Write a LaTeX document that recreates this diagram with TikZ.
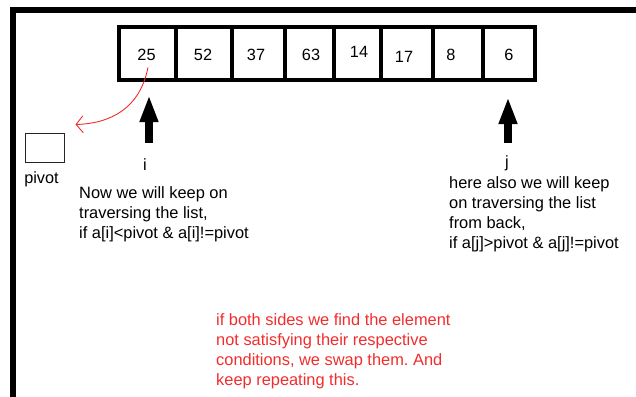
\documentclass[tikz,border=0pt]{standalone}
\usepackage{fontspec}
\setmainfont{Liberation Sans}
\usepackage{tikz}
\usetikzlibrary{arrows.meta,positioning}
\frenchspacing
\definecolor{noteRed}{HTML}{F22C2C}
\tikzset{
  cell/.style={rectangle, draw=black, line width=4pt, minimum height=52.5pt, inner sep=0pt},
  num/.style={anchor=base, inner sep=0pt, font=\fontsize{16.3}{20}\selectfont},
  % anchor=base of a multi-line node sits on its last line
  note/.style={anchor=base west, align=left, inner sep=0pt, font=\fontsize{16.4}{20}\selectfont},
  rednote/.style={note, text=noteRed},
  pivotbox/.style={rectangle, draw=black!85, line width=1pt, minimum width=39pt, minimum height=29pt},
  pointer/.style={-{Triangle[length=27pt,width=17pt]}, line width=8pt},
  swaparrow/.style={-{Straight Barb[length=7pt,width=17pt]}, draw=noteRed, line width=0.9pt},
  frame/.style={line width=6pt, line join=miter}
}

\begin{document}
\begin{tikzpicture}[x=1pt, y=-1pt]
  \useasboundingbox (0,0) rectangle (636,396);
  \draw[frame] (13,400) -- (13,10) -- (640,10);

  % the list, one cell per value
  \foreach \l/\r/\nx/\ny/\v [count=\k] in {119/176/146.5/60/25, 176/232/203/60/52,
      232/284.5/256/60/37, 284.5/334/311/60/63, 334/381/359/57/14,
      381/433/404/62/17, 433/482.5/451/60/8, 482.5/535/509/60/6} {
    \node[cell, minimum width={(\r-\l)*1pt}] (c\k) at ({(\l+\r)/2},53.25) {};
    \node[num] (n\k) at (\nx,\ny) {\v};
  }

  \node[pivotbox] (pivot) at (44.5,147.5) {};
  \node[num] (pivotlabel) at (41.5,183) {pivot};

  \node[num] (ilabel) at (145,170) {i};
  \node[num] (jlabel) at (507,167) {j};

  \draw[pointer] ([xshift=4pt,yshift=15pt]ilabel.north) -- ([xshift=1.5pt,yshift=-13.5pt]c1.south);
  \draw[pointer] ([xshift=1pt,yshift=12pt]jlabel.north) -- ([xshift=-0.75pt,yshift=-15.5pt]c8.south);
  \draw[swaparrow] ([xshift=1.5pt,yshift=-7pt]n1.south) .. controls +(-8,41) and +(35,-1) .. ([xshift=11pt,yshift=8pt]pivot.north east);

  \node[note] (ileft) at (79,238) {Now we will keep on\\traversing the list,\\if a[i]<pivot \& a[i]!=pivot};
  \node[note] (jright) at (449,248) {here also we will keep\\on traversing the list\\from back,\\if a[j]>pivot \& a[j]!=pivot};
  \node[rednote] (swapnote) at (216,385) {if both sides we find the element\\not satisfying their respective\\conditions, we swap them. And\\keep repeating this.};
\end{tikzpicture}
\end{document}
